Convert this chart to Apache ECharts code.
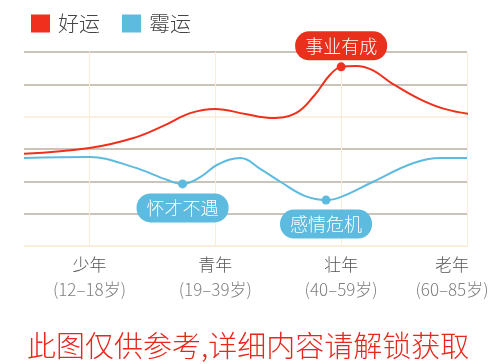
<!DOCTYPE html>
<html><head><meta charset="utf-8">
<script src="https://cdn.jsdelivr.net/npm/echarts@6/dist/echarts.min.js"></script>
<style>html,body{margin:0;padding:0;background:#fff}#c{width:494px;height:364px}</style>
</head><body><div id="c"></div>
<script>
const stages = ['少年', '青年', '壮年', '老年'];
const ageRanges = ['(12–18岁)', '(19–39岁)', '(40–59岁)', '(60–85岁)'];
const stagePos = [0, 1, 2, 3];
const seriesNames = ['好运', '霉运'];
// [stage position, level]
const goodLuck = [
  [-0.52, 2.85], [0, 3.03], [0.35, 3.34], [0.6, 3.74], [0.8, 4.11], [1.0, 4.24],
  [1.24, 4.08], [1.44, 3.96], [1.64, 4.11], [1.79, 4.67], [1.91, 5.29], [2.0, 5.54],
  [2.12, 5.57], [2.25, 5.44], [2.4, 5.04], [2.62, 4.55], [2.82, 4.24], [3.06, 4.06]
];
const badLuck = [
  [-0.52, 2.72], [0, 2.75], [0.35, 2.44], [0.62, 2.04], [0.74, 1.92], [0.88, 2.13],
  [1.02, 2.52], [1.2, 2.72], [1.36, 2.38], [1.52, 1.98], [1.71, 1.55], [1.88, 1.42],
  [2.0, 1.52], [2.25, 1.98], [2.57, 2.56], [2.79, 2.72], [3.0, 2.72]
];
const goodEvents = [{ name: '事业有成', coord: [2.0, 5.54] }];
const badEvents = [{ name: '怀才不遇', coord: [0.74, 1.92] }, { name: '感情危机', coord: [1.88, 1.42] }];
const footNote = '此图仅供参考,详细内容请解锁获取';

const RED = '#f0301d', BLUE = '#5cbbdf', GRAY = '#b8b0a4', PALE = '#fdebd6';
const FONT = '"Noto Sans CJK SC", "Noto Sans", sans-serif';

function pill(color, pos, dist) {
  return {
    show: true, position: pos, distance: dist, formatter: '{b}',
    color: '#fff', fontSize: 18, fontFamily: FONT, fontWeight: 300, lineHeight: 21,
    backgroundColor: color, borderRadius: 14, padding: [4, 10, 4, 10]
  };
}

const chart = echarts.init(document.getElementById('c'));
chart.setOption({
  animation: false,
  title: {
    text: footNote, left: 22, top: 326,
    textStyle: { color: '#e8271c', fontSize: 29, fontWeight: 300, fontFamily: FONT }
  },
  legend: {
    left: 26, top: 8, icon: 'rect', itemWidth: 19, itemHeight: 18, itemGap: 22,
    data: seriesNames,
    textStyle: { fontSize: 21, color: '#444', fontWeight: 300, fontFamily: FONT, padding: [0, 0, 0, 3] }
  },
  grid: { left: 24, right: 27, top: 52, bottom: 118, containLabel: false, outerBoundsMode: 'none' },
  xAxis: {
    type: 'value', min: -0.52, max: 3,
    axisLine: { show: true, lineStyle: { color: PALE, width: 1 } },
    axisTick: { show: false, customValues: stagePos },
    splitLine: { show: true, lineStyle: { color: PALE, width: 1 } },
    axisLabel: {
      customValues: stagePos, margin: 6,
      formatter: function (v) {
        const i = stagePos.indexOf(v);
        if (i < 0) return '';
        if (i === stagePos.length - 1) return '{c|' + stages[i] + '}\n{d|' + ageRanges[i] + '}';
        return '{a|' + stages[i] + '}\n{b|' + ageRanges[i] + '}';
      },
      rich: {
        a: { fontSize: 17, color: '#555', lineHeight: 25, fontWeight: 300, fontFamily: FONT },
        b: { fontSize: 17, color: '#808080', lineHeight: 25, fontWeight: 300, fontFamily: FONT },
        c: { fontSize: 17, color: '#555', lineHeight: 25, fontWeight: 300, fontFamily: FONT, padding: [0, 30, 0, 0] },
        d: { fontSize: 17, color: '#808080', lineHeight: 25, fontWeight: 300, fontFamily: FONT, padding: [0, 30, 0, 0] }
      }
    }
  },
  yAxis: {
    type: 'value', min: 0, max: 6, interval: 1,
    axisLine: { show: true, lineStyle: { color: PALE, width: 1 } },
    axisTick: { show: false }, axisLabel: { show: false },
    splitLine: { show: true, lineStyle: { width: 1.5, color: [PALE, GRAY, GRAY, GRAY, PALE, GRAY, GRAY] } }
  },
  series: [
    {
      name: seriesNames[0], type: 'line', data: goodLuck, smooth: 0.4, showSymbol: false,
      clip: false, color: RED, lineStyle: { color: RED, width: 2 },
      markPoint: {
        symbol: 'circle', symbolSize: 9, itemStyle: { color: RED },
        label: pill('#e8301c', 'top', 2), data: goodEvents
      }
    },
    {
      name: seriesNames[1], type: 'line', data: badLuck, smooth: 0.4, showSymbol: false,
      color: BLUE, lineStyle: { color: BLUE, width: 2 },
      markPoint: {
        symbol: 'circle', symbolSize: 9, itemStyle: { color: BLUE },
        label: pill(BLUE, 'bottom', 5), data: badEvents
      }
    }
  ]
});
</script></body></html>
